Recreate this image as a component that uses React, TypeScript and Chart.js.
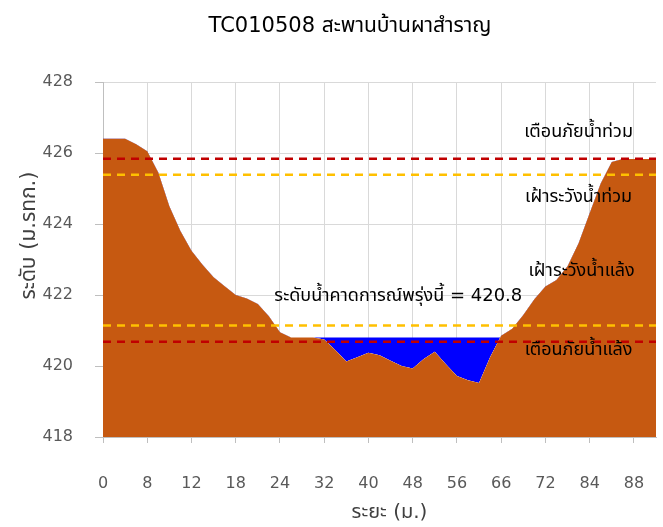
import React, { useEffect, useRef } from 'react';
import { Chart, registerables } from 'chart.js';

Chart.register(...registerables);

// ---- data ----
const distances = [
  0, 2, 4, 6, 8,
  9, 10, 11, 12,
  13.5, 15, 16.5, 18,
  19.5, 21, 22.5, 24,
  26, 28, 30, 32,
  34, 36, 38, 40,
  42, 44, 46, 48,
  50, 52, 54, 56,
  58.5, 61, 63.5, 66,
  67.5, 69, 70.5, 72,
  75, 78, 81, 84,
  85, 86, 87, 88,
  89, 90,
];

const groundLevel = [
  426.4, 426.4, 426.4, 426.25, 426.05,
  425.45, 424.5, 423.8, 423.25,
  422.85, 422.5, 422.25, 422.0,
  421.9, 421.75, 421.4, 420.95,
  420.8, 420.8, 420.8, 420.75,
  420.45, 420.13, 420.25, 420.37,
  420.3, 420.15, 420.0, 419.93,
  420.2, 420.4, 420.05, 419.72,
  419.6, 419.52, 420.25, 420.85,
  421.05, 421.44, 421.88, 422.24,
  422.42, 422.81, 423.46, 424.3,
  425.14, 425.75, 425.83, 425.83,
  425.83, 425.83,
];

const forecastLevel = 420.8;
const floodWarningLevel = 425.84;
const floodWatchLevel = 425.39;
const droughtWatchLevel = 421.14;
const droughtWarningLevel = 420.68;

const labelInterval = 4;
const yTicks = [418, 420, 422, 424, 426, 428];

const chartTitle = 'TC010508 สะพานบ้านผาสำราญ';
const yAxisTitle = 'ระดับ (ม.รทก.)';
const xAxisTitle = 'ระยะ (ม.)';
const floodWarningText = 'เตือนภัยน้ำท่วม';
const floodWatchText = 'เฝ้าระวังน้ำท่วม';
const droughtWatchText = 'เฝ้าระวังน้ำแล้ง';
const droughtWarningText = 'เตือนภัยน้ำแล้ง';
const forecastText = 'ระดับน้ำคาดการณ์พรุ่งนี้ = ' + forecastLevel;

const FONT = 'Tahoma, "DejaVu Sans", "Noto Sans Thai", sans-serif';

const textPlugin = {
  id: 'texts',
  afterDatasetsDraw(chart: any) {
    const ctx = chart.ctx;
    const xs = chart.scales.x;
    const ys = chart.scales.y;
    ctx.save();
    ctx.textAlign = 'center';
    ctx.textBaseline = 'middle';
    ctx.fillStyle = '#000000';
    ctx.font = '18px ' + FONT;
    const lx = xs.getPixelForValue(43);
    ctx.fillText(floodWarningText, lx, ys.getPixelForValue(floodWarningLevel) - 26);
    ctx.fillText(floodWatchText, lx, ys.getPixelForValue(floodWatchLevel) + 23);
    ctx.fillText(droughtWatchText, lx + 3, ys.getPixelForValue(droughtWatchLevel) - 54);
    ctx.fillText(droughtWarningText, lx, ys.getPixelForValue(droughtWarningLevel) + 8);
    ctx.fillText(forecastText, xs.getPixelForValue(26.7), ys.getPixelForValue(forecastLevel) - 41);
    ctx.restore();
  },
  afterDraw(chart: any) {
    const ctx = chart.ctx;
    const area = chart.chartArea;
    ctx.save();
    ctx.fillStyle = '#000000';
    ctx.textAlign = 'center';
    ctx.textBaseline = 'middle';
    ctx.font = '21px ' + FONT;
    ctx.fillText(chartTitle, 350, 27);
    ctx.fillStyle = '#404040';
    ctx.font = '20px ' + FONT;
    ctx.fillText(xAxisTitle, (area.left + area.right) / 2 + 10, 513);
    ctx.font = '21px ' + FONT;
    ctx.translate(30, (area.top + area.bottom) / 2 - 24);
    ctx.rotate(-Math.PI / 2);
    ctx.fillText(yAxisTitle, 0, 0);
    ctx.restore();
  },
};

function thresholdDataset(level: number, color: string) {
  return {
    type: 'line',
    data: distances.map(() => level),
    borderColor: color,
    borderWidth: 2.5,
    borderDash: [8, 6],
    pointRadius: 0,
    fill: false,
    order: 0,
  };
}

export default function App() {
  const canvasRef = useRef<HTMLCanvasElement>(null);

  useEffect(() => {
    const canvas = canvasRef.current;
    if (!canvas) return;
    const chart = new Chart(canvas, {
      type: 'line',
      data: {
        labels: distances.map(String),
        datasets: [
          {
            label: 'ground',
            data: groundLevel,
            borderColor: '#C65911',
            borderWidth: 0,
            backgroundColor: '#C65911',
            pointRadius: 0,
            fill: 'start',
            order: 1,
          },
          {
            label: 'water',
            data: distances.map(() => forecastLevel),
            borderColor: 'rgba(0,0,0,0)',
            borderWidth: 0,
            pointRadius: 0,
            fill: { target: 0, above: '#0000FF', below: 'rgba(0,0,0,0)' },
            order: 2,
          },
          thresholdDataset(floodWarningLevel, '#C00000'),
          thresholdDataset(floodWatchLevel, '#FFC000'),
          thresholdDataset(droughtWatchLevel, '#FFC000'),
          thresholdDataset(droughtWarningLevel, '#C00000'),
        ] as any,
      },
      options: {
        animation: false,
        responsive: false,
        maintainAspectRatio: false,
        layout: { padding: { top: 82, right: 7, left: 0, bottom: 0 } },
        plugins: {
          legend: { display: false },
          tooltip: { enabled: false },
          title: { display: false },
        },
        scales: {
          x: {
            type: 'category',
            offset: false,
            afterFit(scale: any) {
              scale.height = 90;
              scale.paddingLeft = 0;
              scale.paddingRight = 0;
            },
            border: { display: true, color: '#BFBFBF' },
            grid: {
              color: (c: any) => (c.index % labelInterval === 0 ? '#D9D9D9' : 'rgba(0,0,0,0)'),
              tickColor: (c: any) => (c.index % labelInterval === 0 ? '#BFBFBF' : 'rgba(0,0,0,0)'),
              tickLength: 6,
            },
            ticks: {
              autoSkip: false,
              maxRotation: 0,
              minRotation: 0,
              padding: 31,
              color: '#595959',
              font: { size: 16, family: FONT },
              callback: (_v: any, i: number) => (i % labelInterval === 0 ? String(distances[i]) : ''),
            },
          },
          y: {
            min: yTicks[0],
            max: yTicks[yTicks.length - 1],
            afterFit(scale: any) {
              scale.width = 103;
            },
            afterBuildTicks(scale: any) {
              scale.ticks = yTicks.map((v) => ({ value: v }));
            },
            border: { display: true, color: '#BFBFBF' },
            grid: { color: '#D9D9D9', tickColor: '#BFBFBF', tickLength: 8 },
            ticks: {
              padding: 22,
              color: '#595959',
              font: { size: 16, family: FONT },
            },
          },
        },
      } as any,
      plugins: [textPlugin],
    });
    return () => chart.destroy();
  }, []);

  return (
    <div style={{ position: 'fixed', left: 0, top: 0, width: 663, height: 527, background: '#ffffff' }}>
      <canvas ref={canvasRef} width={663} height={527} style={{ display: 'block', width: 663, height: 527 }} />
    </div>
  );
}
